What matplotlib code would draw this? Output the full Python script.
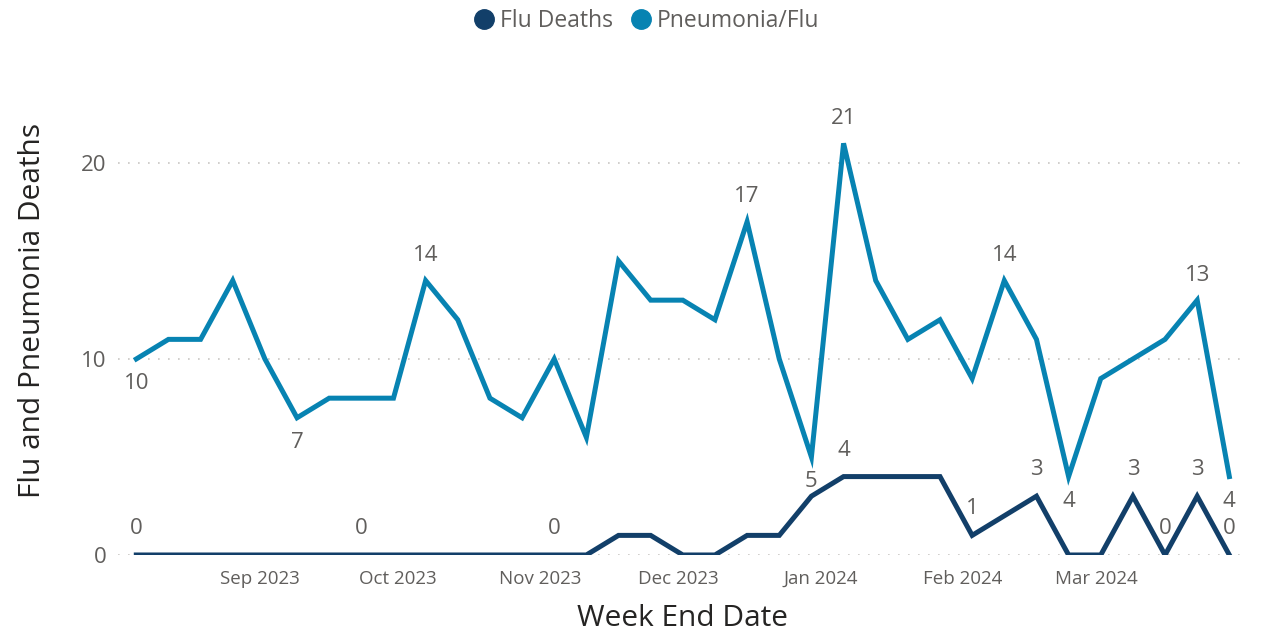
import matplotlib.pyplot as plt
import matplotlib.dates as mdates
from matplotlib.lines import Line2D
import numpy as np
import pandas as pd

plt.rcParams['font.family'] = ['Open Sans', 'DejaVu Sans']

# weekly data, week ending Saturdays
dates = pd.date_range("2023-08-05", periods=35, freq="7D")
pneumonia = [10, 11, 11, 14, 10, 7, 8, 8, 8, 14, 12, 8, 7, 10, 6, 15, 13, 13, 12, 17,
             10, 5, 21, 14, 11, 12, 9, 14, 11, 4, 9, 10, 11, 13, 4]
flu = [0, 0, 0, 0, 0, 0, 0, 0, 0, 0, 0, 0, 0, 0, 0, 1, 1, 0, 0, 1,
       1, 3, 4, 4, 4, 4, 1, 2, 3, 0, 0, 3, 0, 3, 0]

# which points get a data label, and whether above (+1) or below (-1)
pneu_labels = {0: -1, 5: -1, 9: 1, 19: 1, 21: -1, 22: 1, 27: 1, 29: -1, 33: 1, 34: -1}
flu_labels = {0: 1, 7: 1, 13: 1, 22: 1, 26: 1, 28: 1, 31: 1, 32: 1, 33: 1, 34: 1}

c_flu = "#123f69"
c_pneu = "#0783b2"
grey = "#605e5c"

fig = plt.figure(figsize=(12.68, 6.35), dpi=100)
ax = fig.add_axes([0.093, 0.126, 0.891, 0.71])

ax.plot(dates, pneumonia, color=c_pneu, lw=3.6, solid_joinstyle="miter", zorder=3)
ax.plot(dates, flu, color=c_flu, lw=3.6, solid_joinstyle="miter", zorder=3)

for i, d in pneu_labels.items():
    ax.annotate(str(pneumonia[i]), (dates[i], pneumonia[i]), xytext=(0, 18 * d),
                textcoords="offset points", ha="center", va="center",
                fontsize=16, color=grey)
for i, d in flu_labels.items():
    ax.annotate(str(flu[i]), (dates[i], flu[i]), xytext=(0, 19 * d),
                textcoords="offset points", ha="center", va="center",
                fontsize=16, color=grey)

ax.set_xlim(dates[0] - pd.Timedelta(days=4), dates[-1] + pd.Timedelta(days=4))
ax.set_ylim(0, 23)
ax.set_yticks([0, 10, 20])
ax.xaxis.set_major_locator(mdates.MonthLocator(bymonth=[9, 10, 11, 12, 1, 2, 3]))
ax.xaxis.set_major_formatter(mdates.DateFormatter("%b %Y"))
ax.grid(axis="y", color="#c8c6c4", linestyle=(0, (1, 5)), lw=1.2)
ax.set_axisbelow(True)
for s in ax.spines.values():
    s.set_visible(False)
ax.tick_params(axis="x", length=0, labelsize=13.5, colors=grey, pad=11)
ax.tick_params(axis="y", length=0, labelsize=16, colors=grey, pad=8)

ax.set_xlabel("Week End Date", fontsize=21.5, color="#252423", labelpad=11)
ax.set_ylabel("Flu and Pneumonia Deaths", fontsize=21.5, color="#252423")
ax.yaxis.set_label_coords(-0.063, 0.543)

handles = [Line2D([], [], marker="o", ls="", color=c_flu, markersize=14),
           Line2D([], [], marker="o", ls="", color=c_pneu, markersize=14)]
fig.legend(handles, ["Flu Deaths", "Pneumonia/Flu"], loc="upper center",
           bbox_to_anchor=(0.505, 1.018), ncol=2, frameon=False, fontsize=16.5,
           handletextpad=-0.3, columnspacing=0.2, labelcolor=grey)

fig.savefig("out.png", dpi=100)
